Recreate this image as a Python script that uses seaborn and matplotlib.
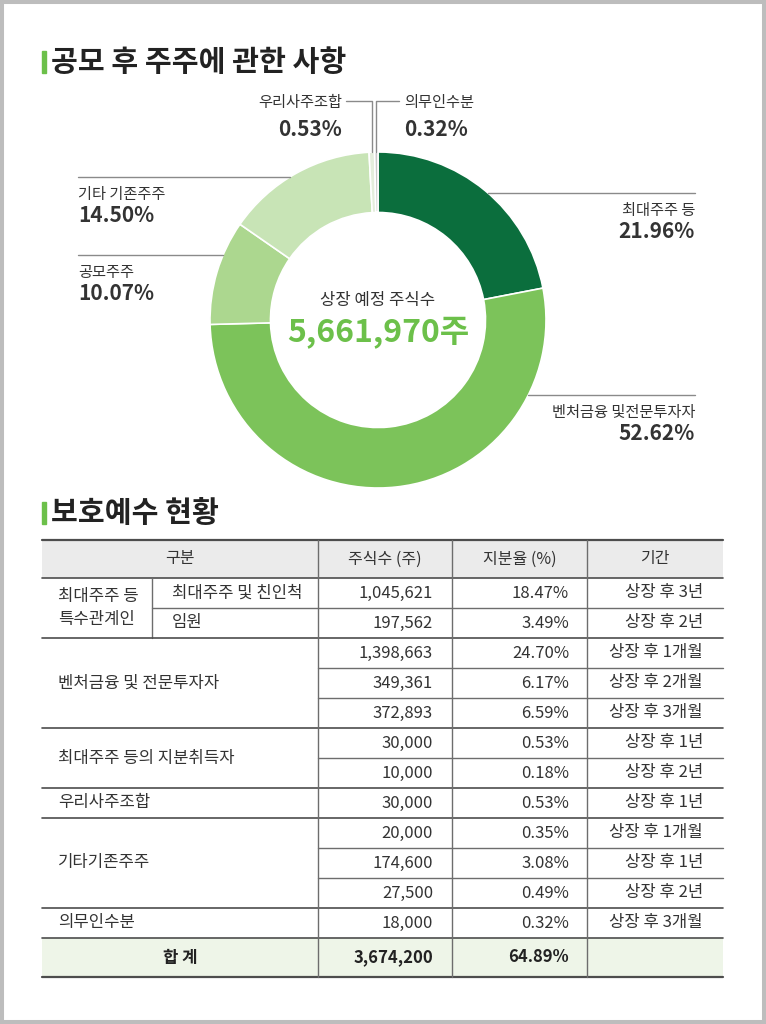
import numpy as np
import pandas as pd
import matplotlib
matplotlib.use("Agg")
import matplotlib.pyplot as plt
from matplotlib.patches import Rectangle
import seaborn as sns

# 도넛 차트 데이터
주주구분 = ['최대주주 등', '벤처금융 및전문투자자', '공모주주', '기타 기존주주', '우리사주조합', '의무인수분']
지분율 = [21.96, 52.62, 10.07, 14.50, 0.53, 0.32]
색상 = ['#0b6e3d', '#7cc35a', '#acd78f', '#c8e4b6', '#e4eddc', '#c9c9c9']
총주식수 = 5661970

# 보호예수 표 데이터
그룹명 = ['최대주주 등\n특수관계인', '벤처금융 및 전문투자자', '최대주주 등의 지분취득자', '우리사주조합', '기타기존주주', '의무인수분']
그룹행수 = [2, 3, 2, 1, 3, 1]
세부구분 = ['최대주주 및 친인척', '임원']
주식수 = [1045621, 197562, 1398663, 349361, 372893, 30000, 10000, 30000, 20000, 174600, 27500, 18000]
비율 = [18.47, 3.49, 24.70, 6.17, 6.59, 0.53, 0.18, 0.53, 0.35, 3.08, 0.49, 0.32]
기간 = ['상장 후 3년', '상장 후 2년', '상장 후 1개월', '상장 후 2개월', '상장 후 3개월', '상장 후 1년',
      '상장 후 2년', '상장 후 1년', '상장 후 1개월', '상장 후 1년', '상장 후 2년', '상장 후 3개월']
헤더 = ['구분', '주식수 (주)', '지분율 (%)', '기간']
합계비율 = 64.89

sns.set_theme(style='white')
plt.rcParams['font.family'] = ['Noto Sans CJK KR', 'DejaVu Sans']

W, H = 766, 1024
fig = plt.figure(figsize=(W / 100, H / 100), dpi=100)
fig.patch.set_facecolor('white')

# 도넛 (픽셀 기준 중심, 반지름)
cx, cy, R = 378, 320, 168
ax = fig.add_axes([(cx - R) / W, (H - cy - R) / H, 2 * R / W, 2 * R / H])
wedges, _ = ax.pie(지분율, colors=색상, startangle=90, counterclock=False, radius=1,
                   wedgeprops=dict(width=0.36, edgecolor='white', linewidth=1.2))
ax.set_xlim(-1, 1)
ax.set_ylim(-1, 1)
ax.axis('off')

ov = fig.add_axes([0, 0, 1, 1])
ov.set_xlim(0, W)
ov.set_ylim(H, 0)
ov.axis('off')

txt = '#333333'

# 제목
def 제목(y, s):
    ov.add_patch(Rectangle((42, y - 11), 4, 22, color='#6cc04a'))
    ov.text(51, y, s, fontsize=21, fontweight='bold', color='#222222', va='center', ha='left')

제목(62, '공모 후 주주에 관한 사항')
제목(513, '보호예수 현황')

# 가운데 텍스트
ov.text(cx, 300, '상장 예정 주식수', fontsize=12, color=txt, ha='center', va='center')
ov.text(cx, 333, f'{총주식수:,}주', fontsize=23, fontweight='bold', color='#6cc04a',
        ha='center', va='center')

# 라벨과 지시선
def 원위x(y, side):
    return cx + side * np.sqrt(R ** 2 - (y - cy) ** 2)

def 라벨(name, pct, x, y, ha):
    ov.text(x, y + 17, name, fontsize=11, color=txt, ha=ha, va='center')
    ov.text(x, y + 39, f'{pct:.2f}%', fontsize=15, fontweight='bold', color=txt, ha=ha, va='center')

lc = '#8a8a8a'
# 최대주주 등
y = 193
ov.plot([원위x(y, 1), 695], [y, y], color=lc, lw=1)
라벨(주주구분[0], 지분율[0], 695, y, 'right')
# 벤처금융
y = 395
ov.plot([원위x(y, 1), 695], [y, y], color=lc, lw=1)
라벨(주주구분[1], 지분율[1], 695, y, 'right')
# 공모주주
y = 255
ov.plot([78, 원위x(y, -1)], [y, y], color=lc, lw=1)
라벨(주주구분[2], 지분율[2], 78, y, 'left')
# 기타 기존주주
y = 177
ov.plot([78, 원위x(y, -1)], [y, y], color=lc, lw=1)
라벨(주주구분[3], 지분율[3], 78, y, 'left')

# 작은 조각 위치 (조각 중앙 각도)
누적 = np.cumsum([0] + 지분율)
def 조각x(i):
    mid = (누적[i] + 누적[i + 1]) / 2 / 100 * 2 * np.pi
    return cx + R * np.sin(mid)

top = cy - R
x4 = 조각x(4)
ov.plot([346, x4, x4], [101, 101, top], color=lc, lw=1)
ov.text(342, 102, 주주구분[4], fontsize=11, color=txt, ha='right', va='center')
ov.text(342, 130, f'{지분율[4]:.2f}%', fontsize=15, fontweight='bold', color=txt, ha='right', va='center')
x5 = 조각x(5)
ov.plot([399, x5, x5], [101, 101, top], color=lc, lw=1)
ov.text(404, 102, 주주구분[5], fontsize=11, color=txt, ha='left', va='center')
ov.text(404, 130, f'{지분율[5]:.2f}%', fontsize=15, fontweight='bold', color=txt, ha='left', va='center')

# 표
L, Rt = 42, 723
colx = [L, 318, 452, 587, Rt]
subx = 152
t0, hh, rh = 540, 38, 30
n = len(주식수)
body0 = t0 + hh
tot0 = body0 + n * rh
tot1 = tot0 + 39
dark = '#4d4d4d'
thin = '#6d6d6d'

ov.add_patch(Rectangle((L, t0), Rt - L, hh, color='#ebebeb', lw=0))
ov.add_patch(Rectangle((L, tot0), Rt - L, tot1 - tot0, color='#eef5e8', lw=0))
ov.plot([L, Rt], [t0, t0], color=dark, lw=1.6)
ov.plot([L, Rt], [t0 + hh, t0 + hh], color=dark, lw=1.2)
hc = [(colx[0] + colx[1]) / 2, (colx[1] + colx[2]) / 2, (colx[2] + colx[3]) / 2, (colx[3] + colx[4]) / 2]
for x, s in zip(hc, 헤더):
    ov.text(x, t0 + hh / 2, s, fontsize=11.5, color=txt, ha='center', va='center')

fs = 12
row = 0
for g, (name, k) in enumerate(zip(그룹명, 그룹행수)):
    ya, yb = body0 + row * rh, body0 + (row + k) * rh
    if g == 0:
        ov.text(58, (ya + yb) / 2, name, fontsize=fs, color=txt, ha='left', va='center', linespacing=1.45)
        ov.plot([subx, subx], [ya, yb], color=thin, lw=1)
        for j, s in enumerate(세부구분):
            ov.text(172, ya + j * rh + rh / 2, s, fontsize=fs, color=txt, ha='left', va='center')
            if j > 0:
                ov.plot([subx, Rt], [ya + j * rh] * 2, color=thin, lw=1)
    else:
        ov.text(58, (ya + yb) / 2, name, fontsize=fs, color=txt, ha='left', va='center')
        for j in range(1, k):
            ov.plot([colx[1], Rt], [ya + j * rh] * 2, color=thin, lw=1)
    ov.plot([L, Rt], [yb, yb], color=dark, lw=1.2)
    row += k

for i in range(n):
    yc = body0 + i * rh + rh / 2
    ov.text(433, yc, f'{주식수[i]:,}', fontsize=fs, color=txt, ha='right', va='center')
    ov.text(569, yc, f'{비율[i]:.2f}%', fontsize=fs, color=txt, ha='right', va='center')
    ov.text(703, yc, 기간[i], fontsize=fs, color=txt, ha='right', va='center')

yc = (tot0 + tot1) / 2
ov.text(hc[0], yc, '합 계', fontsize=fs, fontweight='bold', color='#222222', ha='center', va='center')
ov.text(433, yc, f'{sum(주식수):,}', fontsize=fs, fontweight='bold', color='#222222', ha='right', va='center')
ov.text(569, yc, f'{합계비율:.2f}%', fontsize=fs, fontweight='bold', color='#222222', ha='right', va='center')
ov.plot([L, Rt], [tot1, tot1], color=dark, lw=1.6)

for x in colx[1:4]:
    ov.plot([x, x], [t0, tot1], color=thin, lw=1)

# 바깥 테두리
ov.add_patch(Rectangle((0, 0), W, H, fill=False, edgecolor='#bdbdbd', lw=5.8))

fig.savefig('out.png', dpi=100, facecolor='white')
